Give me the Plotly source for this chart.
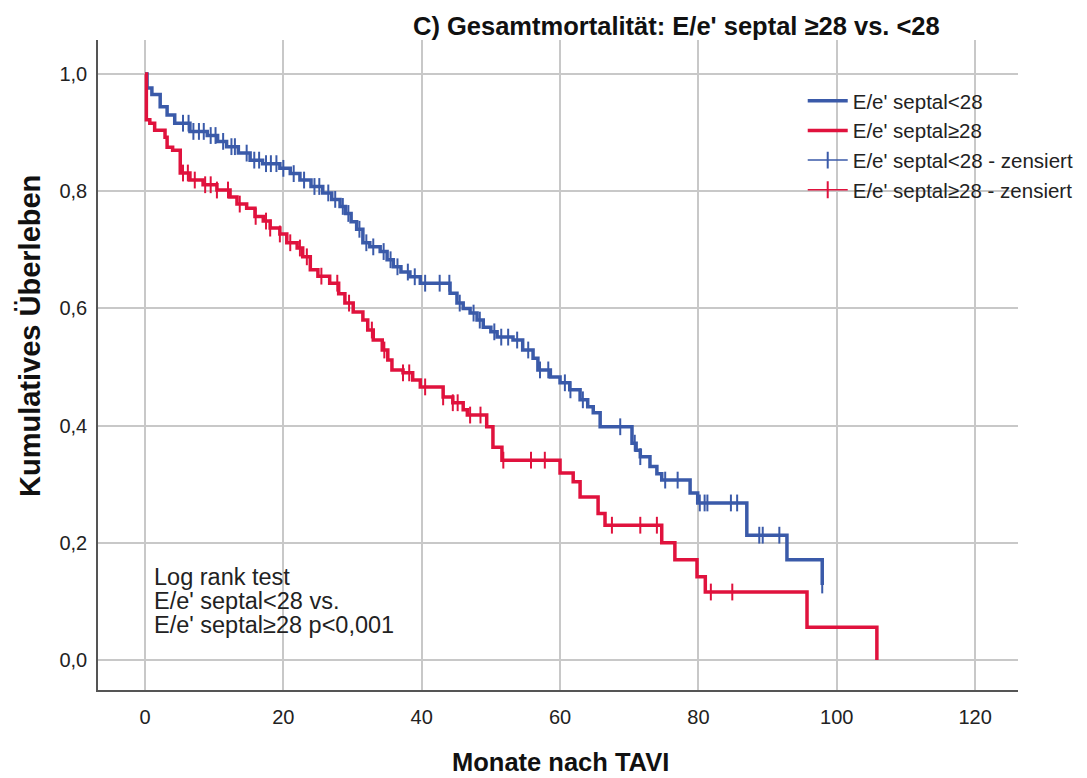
import numpy as np
import plotly.graph_objects as go

# ---- data ----
blue_name = "E/e' septal<28"
red_name = "E/e' septal≥28"

b_t = [0, 0.3, 1.0, 2.2, 3.2, 4.3, 6.5, 9.0, 10.5, 11.8, 13.5, 15.2, 17.0, 19.5, 21.0, 22.4, 24.0, 25.7, 27.0, 28.2,
       29.0, 29.8, 30.6, 31.5, 32.5, 34.0, 35.0, 35.9, 37.0, 38.3, 39.8, 44.1, 45.1, 46.0, 47.0, 48.0, 48.9, 50.0, 50.9, 53.2,
       54.6, 56.1, 56.8, 58.6, 60.0, 61.4, 62.9, 64.0, 64.8, 65.8, 70.4, 71.0, 71.6, 73.0, 74.0, 74.7, 78.8, 79.9, 87.0, 92.8, 97.9]
b_s = [1.0, 0.976, 0.965, 0.944, 0.930, 0.916, 0.902, 0.895, 0.885, 0.876, 0.865, 0.853, 0.847, 0.839, 0.830, 0.819, 0.808, 0.797, 0.786, 0.774,
       0.762, 0.748, 0.735, 0.712, 0.705, 0.697, 0.683, 0.671, 0.662, 0.654, 0.643, 0.626, 0.609, 0.600, 0.592, 0.580, 0.568, 0.560, 0.551, 0.546,
       0.529, 0.515, 0.495, 0.483, 0.473, 0.461, 0.444, 0.432, 0.422, 0.398, 0.370, 0.358, 0.347, 0.330, 0.318, 0.307, 0.285, 0.268, 0.213, 0.171, 0.128]

r_t = [0, 0.2, 0.7, 1.4, 2.9, 3.2, 4.0, 5.1, 6.5, 8.4, 10.4, 12.3, 13.3, 14.7, 15.9, 17.1, 18.1, 19.5, 20.5, 22.0,
       22.8, 23.9, 25.0, 26.7, 28.0, 28.9, 30.1, 31.5, 32.2, 33.0, 34.3, 35.1, 35.7, 37.3, 38.7, 39.8, 43.1, 44.5, 46.0, 46.6,
       49.4, 50.3, 51.6, 60.0, 61.9, 62.9, 65.5, 66.5, 74.7, 76.6, 79.8, 81.0, 95.7, 105.8]
r_s = [1.0, 0.922, 0.916, 0.904, 0.892, 0.875, 0.870, 0.831, 0.819, 0.811, 0.802, 0.790, 0.778, 0.771, 0.757, 0.749, 0.737, 0.727, 0.712, 0.703,
       0.688, 0.666, 0.655, 0.643, 0.625, 0.609, 0.594, 0.580, 0.563, 0.546, 0.529, 0.512, 0.495, 0.490, 0.478, 0.466, 0.449, 0.439, 0.427, 0.418,
       0.398, 0.363, 0.341, 0.319, 0.304, 0.278, 0.250, 0.230, 0.200, 0.171, 0.142, 0.116, 0.056, 0.0]

b_c = [5.5, 6.3, 7.0, 7.8, 8.5, 9.5, 10.2, 11.3, 12.5, 13.0, 14.7, 15.8, 16.5, 17.5, 18.2, 19.0, 20.0, 21.5, 23.0, 24.5,
       25.2, 26.5, 27.5, 28.6, 29.4, 31.0, 32.0, 33.0, 34.5, 35.5, 36.5, 38.0, 39.0, 40.5, 42.6, 44.0, 45.5, 47.5, 48.4, 50.5,
       51.5, 52.5, 53.8, 55.4, 57.1, 58.3, 60.7, 61.5, 63.3, 68.7, 70.8, 71.6, 75.2, 77.0, 80.2, 80.9, 81.3, 84.7, 85.6, 88.8,
       89.3, 91.7, 97.9]
r_c = [5.5, 6.2, 7.2, 8.7, 9.5, 10.4, 12.0, 13.7, 16.0, 17.5, 18.1, 19.5, 21.0, 22.4, 23.4, 25.5, 27.8, 29.5, 32.8, 34.6,
       37.3, 38.2, 40.5, 43.1, 44.5, 45.2, 47.0, 48.5, 51.8, 55.8, 57.8, 67.5, 71.6, 74.0, 81.8, 84.9]

x_ticks = [0, 20, 40, 60, 80, 100, 120]
y_ticks = [0.0, 0.2, 0.4, 0.6, 0.8, 1.0]

title_text = "C) Gesamtmortalität: E/e' septal ≥28 vs. <28"
x_title = "Monate nach TAVI"
y_title = "Kumulatives Überleben"
note_lines = ["Log rank test", "E/e' septal<28 vs.", "E/e' septal≥28 p<0,001"]

BLUE = "#3a5aa9"
RED = "#e0123d"
FONT = "Liberation Sans, Arial, sans-serif"


def surv_at(times, steps, surv):
    idx = np.searchsorted(np.array(steps), np.array(times), side="right") - 1
    return [surv[i] for i in idx]


def gapped(xs, ys):
    gx, gy = [], []
    for a, b in zip(xs, ys):
        gx += [a, None]
        gy += [b, None]
    return gx, gy


def px_x(p):
    return (p - 98) / 920


def px_y(p):
    return (690 - p) / 650


fig = go.Figure()
fig.add_trace(go.Scatter(x=b_t, y=b_s, mode="lines", line=dict(color=BLUE, width=3.5, shape="hv"),
                         name=blue_name))
fig.add_trace(go.Scatter(x=r_t, y=r_s, mode="lines", line=dict(color=RED, width=3.5, shape="hv"),
                         name=red_name))
bx, by = gapped(b_c, surv_at(b_c, b_t, b_s))
rx, ry = gapped(r_c, surv_at(r_c, r_t, r_s))
fig.add_trace(go.Scatter(x=bx, y=by, mode="lines+markers", line=dict(color=BLUE, width=1.5),
                         marker=dict(symbol="line-ns", size=12, line=dict(color=BLUE, width=2)),
                         name=blue_name + " - zensiert"))
fig.add_trace(go.Scatter(x=rx, y=ry, mode="lines+markers", line=dict(color=RED, width=1.5),
                         marker=dict(symbol="line-ns", size=12, line=dict(color=RED, width=2)),
                         name=red_name + " - zensiert"))

ann = [
    dict(text=title_text, x=px_x(676), y=px_y(26), xref="paper", yref="paper", showarrow=False,
         xanchor="center", yanchor="middle",
         font=dict(size=25.5, color="#111", family=FONT, weight="bold")),
    dict(text=x_title, x=px_x(560), y=px_y(762), xref="paper", yref="paper", showarrow=False,
         xanchor="center", yanchor="middle",
         font=dict(size=25.5, color="#111", family=FONT, weight="bold")),
    dict(text=y_title, x=px_x(30), y=px_y(336), xref="paper", yref="paper", showarrow=False, textangle=-90,
         xanchor="center", yanchor="middle",
         font=dict(size=29, color="#111", family=FONT, weight="bold")),
]
for i, line in enumerate(note_lines):
    ypx = 577 + 24 * i
    ann.append(dict(text=line, x=px_x(152), y=px_y(ypx), xref="paper", yref="paper",
                    xanchor="left", yanchor="middle", showarrow=False,
                    font=dict(size=23.5, color="#222", family=FONT)))

fig.update_layout(
    width=1087, height=778,
    margin=dict(l=98, r=69, t=40, b=88, autoexpand=False),
    paper_bgcolor="white", plot_bgcolor="white",
    separators=",.",
    font=dict(family=FONT, size=20, color="#222"),
    annotations=ann,
    legend=dict(x=0.766, y=0.937, xanchor="left", yanchor="top", bgcolor="rgba(0,0,0,0)",
                font=dict(size=20.5, color="#222"), tracegroupgap=0, itemwidth=40),
    xaxis=dict(range=[-6.79, 126.2], tickvals=x_ticks, showgrid=True, gridcolor="#c8c8c8", gridwidth=1.5,
               zeroline=False, showline=True, linecolor="#555", linewidth=1.5, ticks="",
               ticklabelstandoff=8, tickfont=dict(size=20, color="#222")),
    yaxis=dict(range=[-0.0512, 1.058], tickvals=y_ticks, tickformat=".1f", showgrid=True, gridcolor="#c8c8c8",
               gridwidth=1.5, zeroline=False, showline=True, linecolor="#555", linewidth=1.5, ticks="",
               ticklabelstandoff=5, tickfont=dict(size=20, color="#222")),
)

fig.write_html("out.html")
